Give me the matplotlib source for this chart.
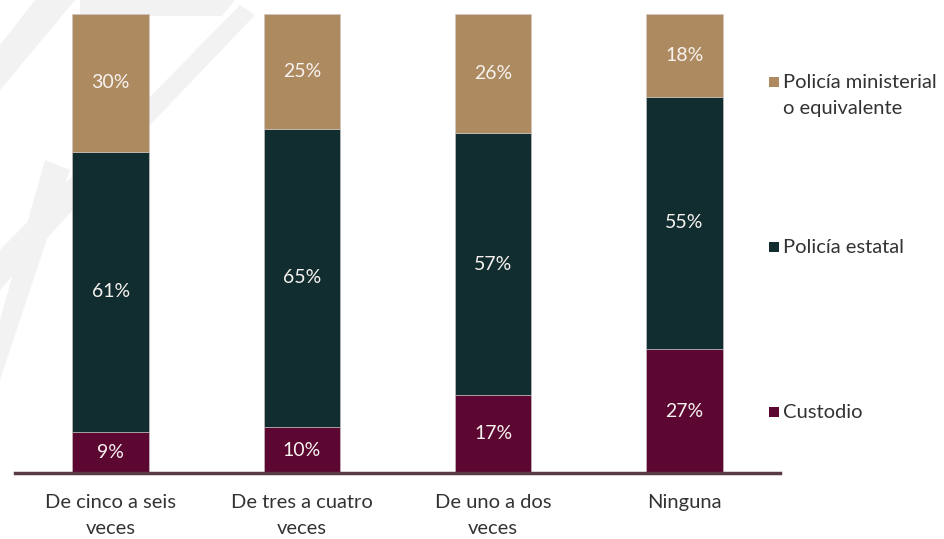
import matplotlib.pyplot as plt
from matplotlib.patches import Polygon, Rectangle
import numpy as np

categories = ["De cinco a seis\nveces", "De tres a cuatro\nveces", "De uno a dos\nveces", "Ninguna"]
series_names = ["Custodio", "Policía estatal", "Policía ministerial\no equivalente"]
custodio = [9, 10, 17, 27]
estatal = [61, 65, 57, 55]
ministerial = [30, 25, 26, 18]
colors = ["#5c0731", "#122d2f", "#ad8a60"]

plt.rcParams['font.family'] = ['Lato', 'DejaVu Sans']

fig = plt.figure(figsize=(9.45, 5.39), dpi=100)


def px(xp, yp):
    return (xp / 945, 1 - yp / 539)


# faint watermark shapes in the top-left corner
wm = "#f2f2f2"
for pts in [
    [px(80, 0), px(235, 0), px(222, 16), px(80, 16)],
    [px(0, 45), px(35, 0), px(75, 0), px(0, 90)],
    [px(0, 250), px(240, 5), px(255, 15), px(150, 125), px(0, 290)],
    [px(0, 380), px(0, 320), px(45, 160), px(70, 170)],
]:
    fig.patches.append(Polygon(pts, closed=True, transform=fig.transFigure,
                               facecolor=wm, edgecolor="none", zorder=-2))

ax = fig.add_axes([15 / 945, 66 / 539, 765 / 945, 459 / 539])
ax.patch.set_alpha(0)

x = np.arange(len(categories))
data = [custodio, estatal, ministerial]
bottom = np.zeros(len(categories))
for vals, col in zip(data, colors):
    vals = np.array(vals)
    ax.bar(x, vals, 0.4, bottom=bottom, color=col, edgecolor="#cfc7c9", linewidth=0.4)
    for xi, b, v in zip(x, bottom, vals):
        ax.text(xi, b + v / 2, f"{v}%", ha="center", va="center",
                color="#f7f3f0", fontsize=14)
    bottom += vals

ax.set_xlim(-0.5, 3.5)
ax.set_ylim(0, 100)
ax.set_yticks([])
ax.set_xticks(x)
ax.set_xticklabels(categories, fontsize=14.5, color="#333333",
                   linespacing=1.64)
ax.tick_params(axis="x", length=0, pad=15)
for s in ["top", "left", "right"]:
    ax.spines[s].set_visible(False)
ax.spines["bottom"].set_color("#5a3a45")
ax.spines["bottom"].set_linewidth(2.5)

# legend drawn by hand (top entry first)
legend_y = [412, 247, 82]
for name, col, yp in zip(series_names, colors, legend_y):
    fig.patches.append(Rectangle((769 / 945, 1 - (yp + 5) / 539), 10 / 945, 10 / 539,
                                 transform=fig.transFigure, facecolor=col, edgecolor="none"))
    fig.text(783 / 945, 1 - (yp - 8) / 539, name, ha="left", va="top",
             fontsize=14.5, color="#333333", linespacing=1.64,
             transform=fig.transFigure)

fig.savefig("out.png", dpi=100)
